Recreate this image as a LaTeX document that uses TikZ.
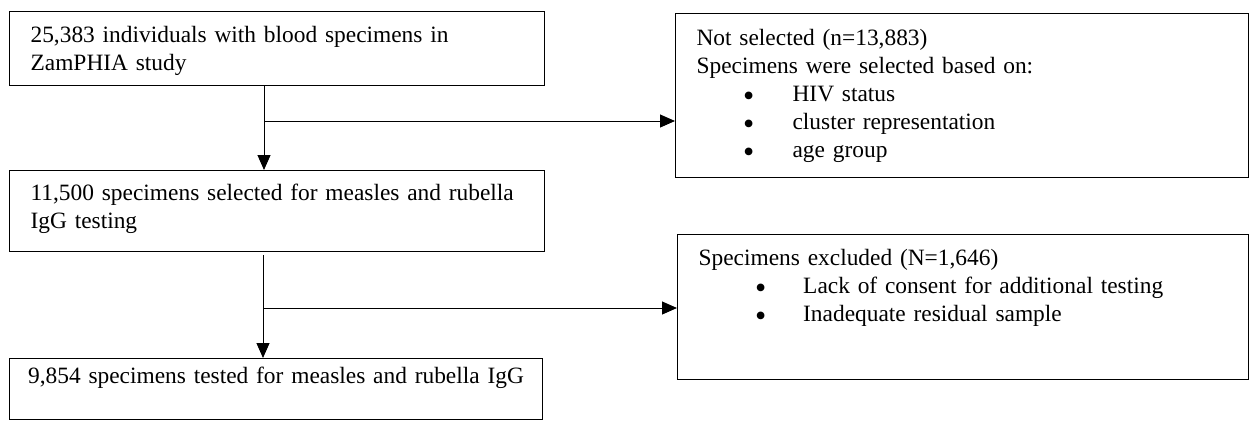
\documentclass[tikz,border=0pt]{standalone}
\usepackage{fontspec}
\setmainfont{Liberation Serif}
\usetikzlibrary{arrows.meta}
\newcommand{\listdot}{\smash{\raisebox{-2.5pt}{\fontsize{16}{14}\selectfont •}}}
\tikzset{
    flowbox/.style={draw=black, line width=0.6pt, anchor=north west,
                align=left, inner xsep=10.5pt, inner ysep=0pt,
                font=\fontsize{11.7}{14}\selectfont},
    flowarr/.style={-{Triangle[length=7.5pt, width=6.5pt]}, line width=0.5pt},
}

\begin{document}
\begin{tikzpicture}[x=0.5pt, y=-0.5pt]

    \useasboundingbox (0,0) rectangle (1250,420);

    \node[flowbox, text width=246.5pt, text height=15.5pt, text depth=21.5pt] (total) at (9,11)
        {25,383 individuals with blood specimens in\\ZamPHIA study};
    \node[flowbox, text width=246.5pt, text height=15pt, text depth=25.5pt] (selected) at (9,170)
        {11,500 specimens selected for measles and rubella\\IgG testing};
    \node[flowbox, inner xsep=9.25pt, text width=248pt, text height=12.5pt, text depth=17.75pt] (tested) at (9,358)
        {9,854 specimens tested for measles and rubella IgG};

    \node[flowbox, text width=265.5pt, text height=16pt, text depth=66pt] (notsel) at (675,13)
        {Not selected (n=13,883)\\
         Specimens were selected based on:\\
         \hspace*{23.2pt}\listdot\hspace*{19.2pt}HIV status\\
         \hspace*{23.2pt}\listdot\hspace*{19.2pt}cluster representation\\
         \hspace*{23.2pt}\listdot\hspace*{19.2pt}age group};
    \node[flowbox, text width=264.5pt, text height=15.5pt, text depth=57pt] (excl) at (677,234)
        {Specimens excluded (N=1,646)\\
         \hspace*{28.2pt}\listdot\hspace*{18.5pt}Lack of consent for additional testing\\
         \hspace*{28.2pt}\listdot\hspace*{18.5pt}Inadequate residual sample};

    % junctions where the side arrows branch off
    \coordinate (split1) at (264,121);
    \coordinate (split2) at (263,308);

    \draw[flowarr] (split1 |- total.south) -- (split1 |- selected.north);
    \draw[flowarr] (split1) -- (split1 -| notsel.west);

    \draw[flowarr] ([yshift=-1.5pt]split2 |- selected.south) -- (split2 |- tested.north);
    \draw[flowarr] (split2) -- (split2 -| excl.west);

\end{tikzpicture}
\end{document}
